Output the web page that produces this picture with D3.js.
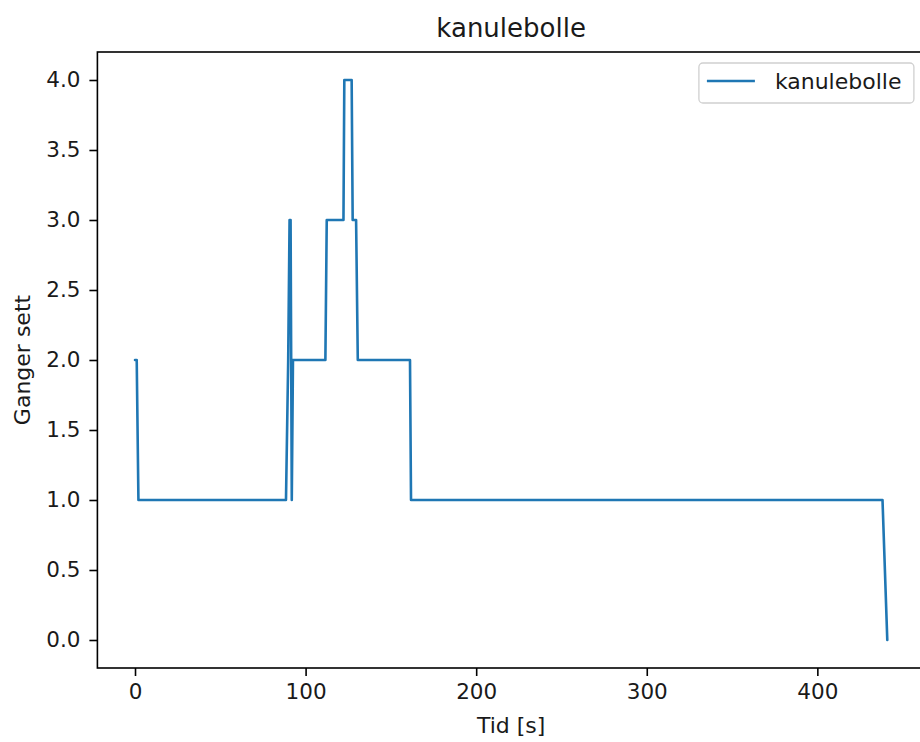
<!DOCTYPE html>
<meta charset="utf-8">
<style>
body { margin: 0; background: #fff; }
text { font-family: "DejaVu Sans", sans-serif; fill: #1a1a1a; }
.line { fill: none; stroke: #1f77b4; stroke-width: 2.6px; stroke-linejoin: round; stroke-linecap: round; }
.axis path, .axis line { stroke: #000; stroke-width: 1.6px; }
.axis text { font-size: 21.5px; }
</style>
<svg width="920" height="742"></svg>
<script src="https://d3js.org/d3.v7.min.js"></script>
<script>

// time stamps [s] and times seen
var tider = [0, 1, 2, 88.5, 89.8, 90.6, 91.2, 91.9, 92.6, 111.6, 112.4, 122.2, 122.7, 127.0, 127.6, 129.6, 130.6, 161.2, 161.8, 438.2, 441];
var ganger = [2, 2, 1, 1, 2, 3, 3, 1, 2, 2, 3, 3, 4, 4, 3, 3, 2, 2, 1, 1, 0];
var xTicks = [0, 100, 200, 300, 400];
var yTicks = [0, 0.5, 1, 1.5, 2, 2.5, 3, 3.5, 4];
var seriesName = "kanulebolle";

var svg = d3.select("svg"),
    margin = {top: 52, left: 97.4, bottom: 74},
    width = 827.5,
    height = +svg.attr("height") - margin.top - margin.bottom;

var data = tider.map(function(t, i) { return {t: t, v: ganger[i]}; });

// matplotlib style 5% margins
var xExt = d3.extent(tider), xPad = (xExt[1] - xExt[0]) * 0.05;
var yExt = d3.extent(ganger), yPad = (yExt[1] - yExt[0]) * 0.05;

var x = d3.scaleLinear().domain([xExt[0] - xPad, xExt[1] + xPad]).range([0, width]),
    y = d3.scaleLinear().domain([yExt[0] - yPad, yExt[1] + yPad]).range([height, 0]);

var g = svg.append("g")
    .attr("transform", "translate(" + margin.left + "," + margin.top + ")");

var line = d3.line()
    .x(function(d) { return x(d.t); })
    .y(function(d) { return y(d.v); });

g.append("path")
    .datum(data)
    .attr("class", "line")
    .attr("d", line);

// frame
g.append("rect")
    .attr("width", width)
    .attr("height", height)
    .attr("fill", "none")
    .attr("stroke", "#000")
    .attr("stroke-width", 1.6);

g.append("g")
    .attr("class", "axis")
    .attr("transform", "translate(0," + height + ")")
    .call(d3.axisBottom(x).tickValues(xTicks).tickSize(8).tickPadding(8).tickFormat(d3.format("d")))
    .call(function(a) { a.select(".domain").remove(); });

g.append("g")
    .attr("class", "axis")
    .call(d3.axisLeft(y).tickValues(yTicks).tickSize(8).tickPadding(9).tickFormat(d3.format(".1f")))
    .call(function(a) { a.select(".domain").remove(); });

// title and labels
svg.append("text")
    .attr("x", margin.left + x(220.5))
    .attr("y", 37)
    .attr("text-anchor", "middle")
    .style("font-size", "26px")
    .text(seriesName);

svg.append("text")
    .attr("x", margin.left + x(220.5))
    .attr("y", 733)
    .attr("text-anchor", "middle")
    .style("font-size", "22px")
    .text("Tid [s]");

svg.append("text")
    .attr("transform", "translate(30," + (margin.top + height / 2) + ") rotate(-90)")
    .attr("text-anchor", "middle")
    .style("font-size", "22px")
    .text("Ganger sett");

// legend, upper right
var lg = g.append("g")
    .attr("transform", "translate(" + (width - 11 - 215) + ",11)");

lg.append("rect")
    .attr("width", 215)
    .attr("height", 40)
    .attr("rx", 4)
    .attr("fill", "#fff")
    .attr("fill-opacity", 0.8)
    .attr("stroke", "#d0d0d0")
    .attr("stroke-width", 1.3);

lg.append("line")
    .attr("x1", 8).attr("x2", 56)
    .attr("y1", 18).attr("y2", 18)
    .attr("stroke", "#1f77b4")
    .attr("stroke-width", 2.6);

lg.append("text")
    .attr("x", 76)
    .attr("y", 26)
    .style("font-size", "22px")
    .text(seriesName);

</script>
</html>
